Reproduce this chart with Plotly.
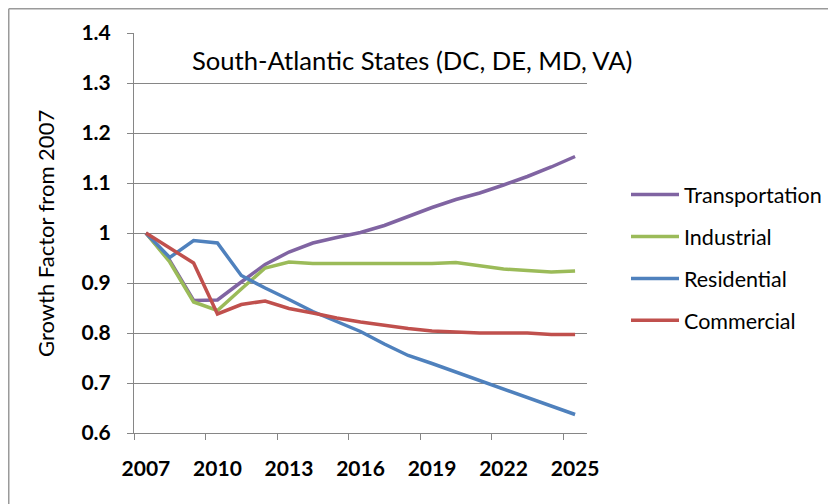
import plotly.graph_objects as go

years = list(range(2007, 2026))
tick_years = [2007, 2010, 2013, 2016, 2019, 2022, 2025]
y_ticks = [0.6, 0.7, 0.8, 0.9, 1.0, 1.1, 1.2, 1.3, 1.4]
y_ticktext = ["0.6", "0.7", "0.8", "0.9", "1", "1.1", "1.2", "1.3", "1.4"]

transportation = [1.0, 0.945, 0.865, 0.866, 0.902, 0.937, 0.962, 0.98, 0.991, 1.001,
                  1.015, 1.033, 1.051, 1.067, 1.08, 1.096, 1.113, 1.132, 1.153]
industrial = [1.0, 0.942, 0.862, 0.845, 0.888, 0.93, 0.942, 0.939, 0.939, 0.939,
              0.939, 0.939, 0.939, 0.941, 0.935, 0.928, 0.925, 0.922, 0.924]
residential = [1.0, 0.951, 0.985, 0.98, 0.915, 0.89, 0.867, 0.843, 0.823, 0.803,
               0.778, 0.755, 0.739, 0.722, 0.705, 0.688, 0.672, 0.655, 0.637]
commercial = [1.0, 0.97, 0.94, 0.838, 0.857, 0.864, 0.849, 0.84, 0.83, 0.822,
              0.815, 0.809, 0.804, 0.802, 0.80, 0.80, 0.80, 0.797, 0.797]

series = [
    ("Transportation", transportation, "#8064A2"),
    ("Industrial", industrial, "#9BBB59"),
    ("Residential", residential, "#4F81BD"),
    ("Commercial", commercial, "#C0504D"),
]

FONT = "Lato"
OFF = 8  # page body margin, so figure pixel = screen pixel - 8
# a little wider than the window so the legend never squeezes the plot area
W, H = 860, 504 - OFF
# plot area in screen pixels
L, R, T, B = 134, 587, 33, 433

fig = go.Figure()
for name, vals, col in series:
    fig.add_trace(go.Scatter(x=years, y=vals, mode="lines", name=name, legendgroup=name,
                             line=dict(color=col, width=3.5)))

pw, ph = R - L, B - T

def px(x):
    return (x - L) / pw

def py(y):
    return (B - y) / ph

# chart title inside the plot area
fig.add_annotation(x=px(412), y=py(60), xref="paper", yref="paper", showarrow=False,
                   xanchor="center", yanchor="middle",
                   text="South-Atlantic States (DC, DE, MD, VA)",
                   font=dict(family=FONT, size=25.6, color="#000000"))
# y axis title
fig.add_annotation(x=px(46), y=py(234), xref="paper", yref="paper", showarrow=False,
                   xanchor="center", yanchor="middle",
                   text="Growth Factor from 2007", textangle=-90,
                   font=dict(family=FONT, size=22, color="#000000"))
# outer chart border (top and left edges visible)
fig.add_shape(type="line", xref="paper", yref="paper",
              x0=px(8.75), x1=px(900), y0=py(8.75), y1=py(8.75),
              line=dict(color="#9a9a9a", width=1.5))
fig.add_shape(type="line", xref="paper", yref="paper",
              x0=px(8.75), x1=px(8.75), y0=py(8.75), y1=py(600),
              line=dict(color="#9a9a9a", width=1.5))

fig.update_layout(
    width=W, height=H,
    margin=dict(l=L - OFF, r=W - (R - OFF), t=T - OFF, b=H - (B - OFF)),
    paper_bgcolor="white", plot_bgcolor="white",
    font=dict(family=FONT, color="#000000"),
    showlegend=True,
    legend=dict(x=px(626), y=py(174), xanchor="left", yanchor="top",
                font=dict(family=FONT, size=21.5), traceorder="grouped",
                tracegroupgap=11, itemwidth=48, bgcolor="rgba(0,0,0,0)"),
    xaxis=dict(range=[2006.5, 2025.5], tickvals=tick_years, ticks="",
               showgrid=False, zeroline=False, showline=True, linecolor="#868686",
               linewidth=1, ticklabelstandoff=17, automargin=False,
               tickfont=dict(family=FONT, size=21, weight="bold"),
               minor=dict(tick0=2006.5, dtick=3, ticks="outside", ticklen=6,
                          tickcolor="#868686", showgrid=False)),
    yaxis=dict(range=[0.6, 1.4], tickvals=y_ticks, ticktext=y_ticktext,
               ticks="outside", ticklen=6, tickcolor="#868686",
               showgrid=True, gridcolor="#868686", gridwidth=1, zeroline=False,
               showline=True, linecolor="#868686", linewidth=1,
               ticklabelstandoff=12, automargin=False,
               tickfont=dict(family=FONT, size=21, weight="bold")),
)

fig.write_html("out.html")
